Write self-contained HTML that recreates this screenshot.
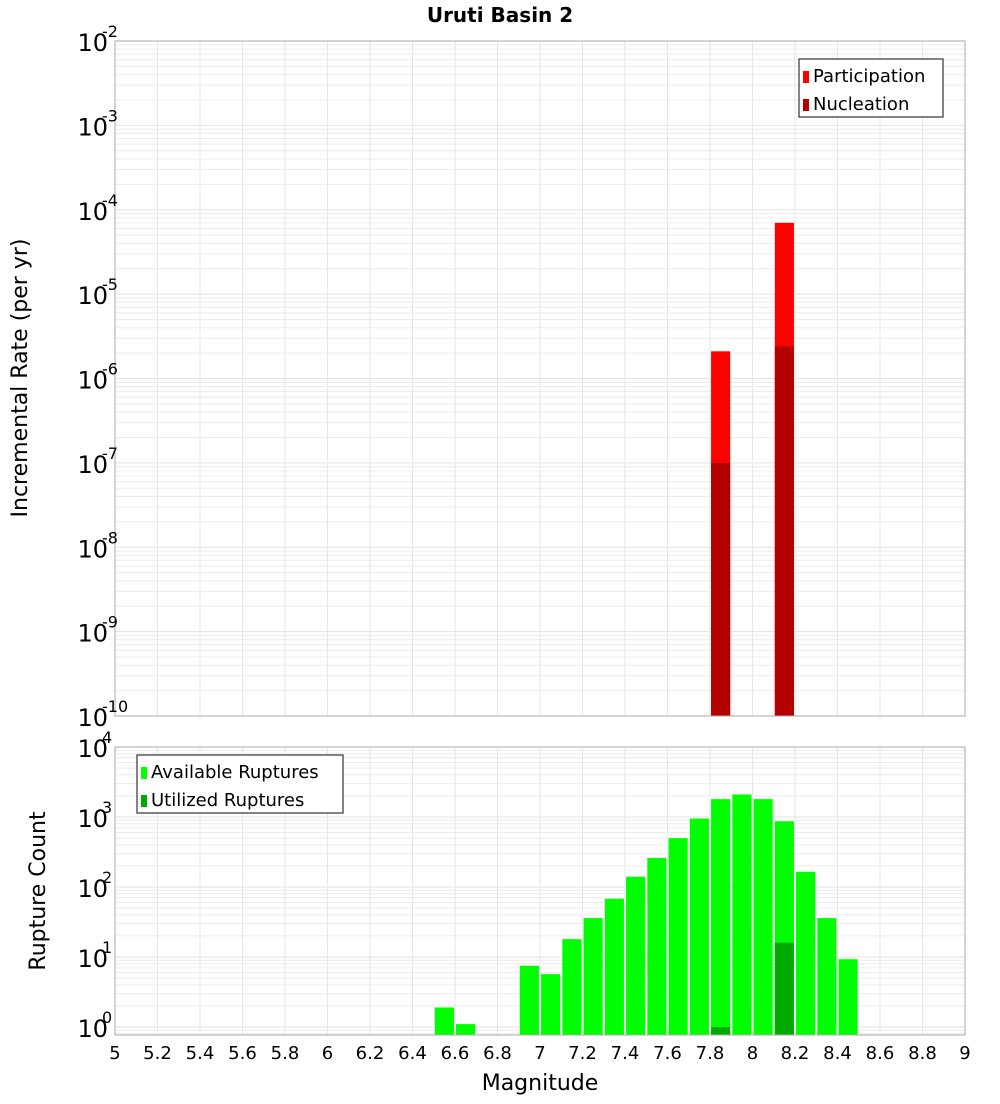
<!DOCTYPE html>
<html><head><meta charset="utf-8"><style>
body{margin:0;background:#fff;font-family:"DejaVu Sans","Liberation Sans",sans-serif}
svg text{font-family:"DejaVu Sans","Liberation Sans",sans-serif}
</style></head><body>
<svg id="c" width="1000" height="1100" viewBox="0 0 1000 1100" xmlns="http://www.w3.org/2000/svg">
<text x="500" y="22" text-anchor="middle" font-size="20" font-weight="bold">Uruti Basin 2</text>
<text transform="translate(27,378) rotate(-90)" text-anchor="middle" font-size="22">Incremental Rate (per yr)</text>
<text transform="translate(45,891) rotate(-90)" text-anchor="middle" font-size="22">Rupture Count</text>
<text x="540" y="1090" text-anchor="middle" font-size="22">Magnitude</text>
<g id="g"></g>
</svg>
<script>
const magCenters=[6.55,6.65,6.95,7.05,7.15,7.25,7.35,7.45,7.55,7.65,7.75,7.85,7.95,8.05,8.15,8.25,8.35,8.45];
const available=[1.9,1.1,7.5,5.7,18,36,68,140,260,500,950,1800,2100,1800,870,165,36,9.3];
const utilMags=[7.85,8.15];
const utilized=[1.0,16];
const rateMags=[7.85,8.15];
const participation=[2.1e-6,7e-5];
const nucleation=[1e-7,2.4e-6];
const xTicks=[5,5.2,5.4,5.6,5.8,6,6.2,6.4,6.6,6.8,7,7.2,7.4,7.6,7.8,8,8.2,8.4,8.6,8.8,9];
const topExp=[-10,-9,-8,-7,-6,-5,-4,-3,-2];
const botExp=[0,1,2,3,4];

const NS="http://www.w3.org/2000/svg",g=document.getElementById('g');
function el(t,a,p){const e=document.createElementNS(NS,t);for(const k in a)e.setAttribute(k,a[k]);(p||g).appendChild(e);return e;}
const L=115,R=965;
const x=v=>L+(v-5)/4*(R-L);
const T={top:41,bot:716,lmin:-10,lmax:-2};
const B={top:747,bot:1035,lmin:Math.log10(0.77),lmax:4};
B.per=(1027-747)/4;
const yT=v=>T.bot-(Math.log10(v)-T.lmin)/(T.lmax-T.lmin)*(T.bot-T.top);
const yB=v=>1027-Math.log10(v)*B.per;

function grid(P,yf,exps,minV){
  for(let e=exps[0]-1;e<=exps[exps.length-1];e++){
    for(let m=1;m<10;m++){
      const v=m*Math.pow(10,e);const yy=yf(v);
      if(yy<P.top||yy>P.bot)continue;
      const ln=el('line',{x1:L,x2:R,y1:yy,y2:yy,stroke:m==1?'#e2e2e2':'#ececec','stroke-width':1});
      
      
    }
  }
  xTicks.forEach(t=>{const ln=el('line',{x1:x(t),x2:x(t),y1:P.top,y2:P.bot,stroke:'#e6e6e6'});
    
    });
}
grid(T,yT,topExp);
grid(B,yB,botExp);

const bw=(R-L)/40*0.9;
function bar(m,v,yf,base,col,name){
  const yy=yf(v);
  const r=el('rect',{x:x(m)-bw/2,y:yy,width:bw,height:base-yy,fill:col});
  
  
}
rateMags.forEach((m,i)=>bar(m,participation[i],yT,T.bot,'#ff0000','participation-bar'));
rateMags.forEach((m,i)=>bar(m,nucleation[i],yT,T.bot,'#b30000','nucleation-bar'));
magCenters.forEach((m,i)=>bar(m,available[i],yB,B.bot,'#00ff00','available-bar'));
utilMags.forEach((m,i)=>bar(m,utilized[i],yB,B.bot,'#00aa00','utilized-bar'));

[T,B].forEach((P,i)=>{const r=el('rect',{x:L,y:P.top,width:R-L,height:P.bot-P.top,fill:'none',stroke:'#aaa'});
  
  });

function ylab(yy,e,name){
  const t=el('text',{x:108,y:yy+10,'text-anchor':'end','font-size':24});
  
  
  t.textContent='10';
  const s=el('text',{x:102,y:yy-4,'font-size':16});
  
  
  s.textContent=String(e);
}
topExp.forEach(e=>ylab(yT(Math.pow(10,e)),e,'y-tick-top'));
botExp.forEach(e=>ylab(yB(Math.pow(10,e)),e,'y-tick-bottom'));
xTicks.forEach(t=>{const tx=el('text',{x:x(t),y:1059,'text-anchor':'middle','font-size':18});
  
  
  tx.textContent=String(t);});

function legend(x0,y0,w,items,name){
  const lg=el('g',{});
  
  
  el('rect',{x:x0,y:y0,width:w,height:58,fill:'#fff',stroke:'#333','stroke-width':1.2},lg);
  items.forEach((it,i)=>{
    const sw=el('rect',{x:x0+4,y:y0+12+i*28,width:6,height:12,fill:it[1]},lg);
    
    
    const t=el('text',{x:x0+14,y:y0+23+i*28,'font-size':18},lg);
    
    
    t.textContent=it[0];
  });
}
legend(799,59,144,[['Participation','#ff0000'],['Nucleation','#b30000']],'legend-top');
legend(137,755,206,[['Available Ruptures','#00ff00'],['Utilized Ruptures','#00aa00']],'legend-bottom');
</script>
</body></html>
